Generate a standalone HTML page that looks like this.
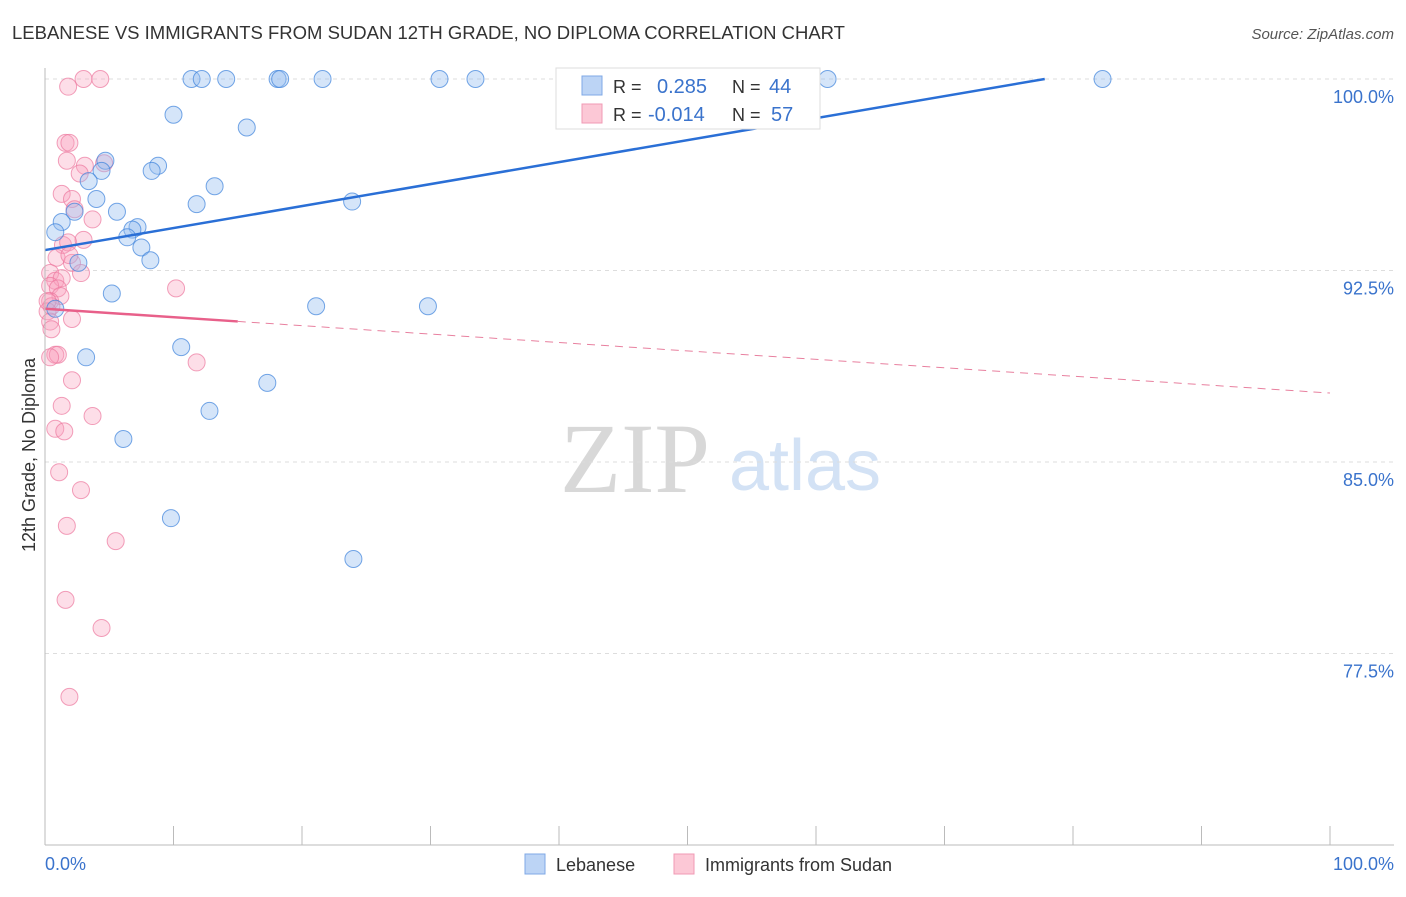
<!DOCTYPE html>
<html><head><meta charset="utf-8"><style>
body{margin:0;background:#fff;font-family:"Liberation Sans",sans-serif;}
svg text{font-family:"Liberation Sans",sans-serif;}
</style></head><body>
<svg id="c" width="1406" height="892">
<text x="12" y="39" font-size="18.5" fill="#333">LEBANESE VS IMMIGRANTS FROM SUDAN 12TH GRADE, NO DIPLOMA CORRELATION CHART</text>
<text x="1394" y="39" font-size="15" fill="#555" font-style="italic" text-anchor="end">Source: ZipAtlas.com</text>
<text x="635" y="492" font-size="100" fill="#d8d8d8" style="font-family:'Liberation Serif',serif" text-anchor="middle">ZIP</text>
<text x="805" y="490" font-size="72" fill="#d3e2f5" text-anchor="middle">atlas</text>
<g id="grid"></g><g id="pts"></g><g id="lines"></g>
<line x1="45" y1="68" x2="45" y2="845" stroke="#bbb"/>
<line x1="45" y1="845" x2="1394" y2="845" stroke="#bbb"/>
<text x="35" y="455" font-size="18" fill="#333" transform="rotate(-90 35 455)" text-anchor="middle">12th Grade, No Diploma</text>
<text x="45" y="870" font-size="18" fill="#3a73cc">0.0%</text>
<text x="1394" y="870" font-size="18" fill="#3a73cc" text-anchor="end">100.0%</text>
<g>
<rect x="556" y="68" width="264" height="61" fill="#fff" stroke="#ddd"/>
<rect x="582" y="76" width="20" height="19" fill="#bcd4f5" stroke="#7fa8e6"/>
<rect x="582" y="104" width="20" height="19" fill="#fcc8d6" stroke="#f09ab4"/>
<text x="613" y="93" font-size="18" fill="#333">R =</text><text x="657" y="93" font-size="20" fill="#3a73cc">0.285</text>
<text x="732" y="93" font-size="18" fill="#333">N =</text><text x="769" y="93" font-size="20" fill="#3a73cc">44</text>
<text x="613" y="121" font-size="18" fill="#333">R =</text><text x="648" y="121" font-size="20" fill="#3a73cc">-0.014</text>
<text x="732" y="121" font-size="18" fill="#333">N =</text><text x="771" y="121" font-size="20" fill="#3a73cc">57</text>
</g>
<g>
<rect x="525" y="854" width="20" height="20" fill="#bcd4f5" stroke="#7fa8e6"/>
<text x="556" y="871" font-size="18" fill="#333">Lebanese</text>
<rect x="674" y="854" width="20" height="20" fill="#fcc8d6" stroke="#f09ab4"/>
<text x="705" y="871" font-size="18" fill="#333">Immigrants from Sudan</text>
</g>
</svg>
<script>
const yTicks=[100,92.5,85,77.5];
const yTickLabels=["100.0%","92.5%","85.0%","77.5%"];
const xTicks=[0,10,20,30,40,50,60,70,80,90,100];
const blueX=[11.4,12.2,14.1,18.1,18.3,21.6,30.7,33.5,60.9,82.3,10.0,15.7,4.7,8.8,4.4,8.3,3.4,13.2,4.0,11.8,23.9,2.3,5.6,1.3,0.8,7.2,6.8,6.4,7.5,8.2,2.6,5.2,0.8,21.1,29.8,10.6,3.2,17.3,12.8,6.1,9.8,24.0];
const blueY=[100,100,100,100,100,100,100,100,100,100,98.6,98.1,96.8,96.6,96.4,96.4,96.0,95.8,95.3,95.1,95.2,94.8,94.8,94.4,94.0,94.2,94.1,93.8,93.4,92.9,92.8,91.6,91.0,91.1,91.1,89.5,89.1,88.1,87.0,85.9,82.8,81.2];
const pinkX=[3.0,4.3,1.8,1.6,1.9,1.7,3.1,4.6,2.7,1.3,2.1,2.3,3.7,1.4,1.8,3.0,0.9,2.1,1.9,2.8,0.4,0.8,1.3,0.4,1.0,1.2,0.4,0.5,0.2,2.1,0.4,0.5,10.2,11.8,0.8,1.0,2.1,1.3,3.7,0.8,1.5,1.1,2.8,1.7,5.5,1.6,4.4,1.9,0.4,0.2];
const pinkY=[100,100,99.7,97.5,97.5,96.8,96.6,96.7,96.3,95.5,95.3,94.9,94.5,93.5,93.6,93.7,93.0,92.8,93.1,92.4,92.4,92.1,92.2,91.9,91.8,91.5,91.3,91.1,90.9,90.6,90.5,90.2,91.8,88.9,89.2,89.2,88.2,87.2,86.8,86.3,86.2,84.6,83.9,82.5,81.9,79.6,78.5,75.8,89.1,91.3];
const blueTrend=[93.3,100.0,77.8];
const pinkTrend=[91.0,87.7,15];
const X=v=>45+v*12.85, Y=v=>79+(100-v)*25.533;
const NS="http://www.w3.org/2000/svg";
function mk(t,a,p){const e=document.createElementNS(NS,t);for(const k in a)e.setAttribute(k,a[k]);p.appendChild(e);return e;}
const g=document.getElementById('grid');
yTicks.forEach((v,i)=>{
 const l=mk('line',{x1:45,x2:1394,y1:Y(v),y2:Y(v),stroke:'#ddd','stroke-dasharray':'4,4'},g);
 
 
 const t=mk('text',{x:1394,y:Y(v)+24,'font-size':18,fill:'#3a73cc','text-anchor':'end'},g);t.textContent=yTickLabels[i];
 
 
});
xTicks.forEach(v=>{
 const l=mk('line',{x1:X(v),x2:X(v),y1:826,y2:845,stroke:'#bbb'},g);
 
 
});
const p=document.getElementById('pts');
pinkX.forEach((v,i)=>{
 const c=mk('circle',{cx:X(v),cy:Y(pinkY[i]),r:8.5,fill:'rgba(248,160,188,0.35)',stroke:'rgba(236,120,158,0.7)','stroke-width':1},p);
 
 
});
blueX.forEach((v,i)=>{
 const c=mk('circle',{cx:X(v),cy:Y(blueY[i]),r:8.5,fill:'rgba(150,190,240,0.4)',stroke:'rgba(60,130,220,0.7)','stroke-width':1},p);
 
 
});
const L=document.getElementById('lines');
const b=mk('line',{x1:X(0),y1:Y(blueTrend[0]),x2:X(blueTrend[2]),y2:Y(blueTrend[1]),stroke:'#2a6fd6','stroke-width':2.5},L);


const ps=v=>pinkTrend[0]+(pinkTrend[1]-pinkTrend[0])*v/100;
const s=mk('line',{x1:X(0),y1:Y(ps(0)),x2:X(pinkTrend[2]),y2:Y(ps(pinkTrend[2])),stroke:'#e8608a','stroke-width':2.5},L);


const d=mk('line',{x1:X(pinkTrend[2]),y1:Y(ps(pinkTrend[2])),x2:X(100),y2:Y(ps(100)),stroke:'#e8809f','stroke-width':1,'stroke-dasharray':'8,6'},L);


</script>
</body></html>
